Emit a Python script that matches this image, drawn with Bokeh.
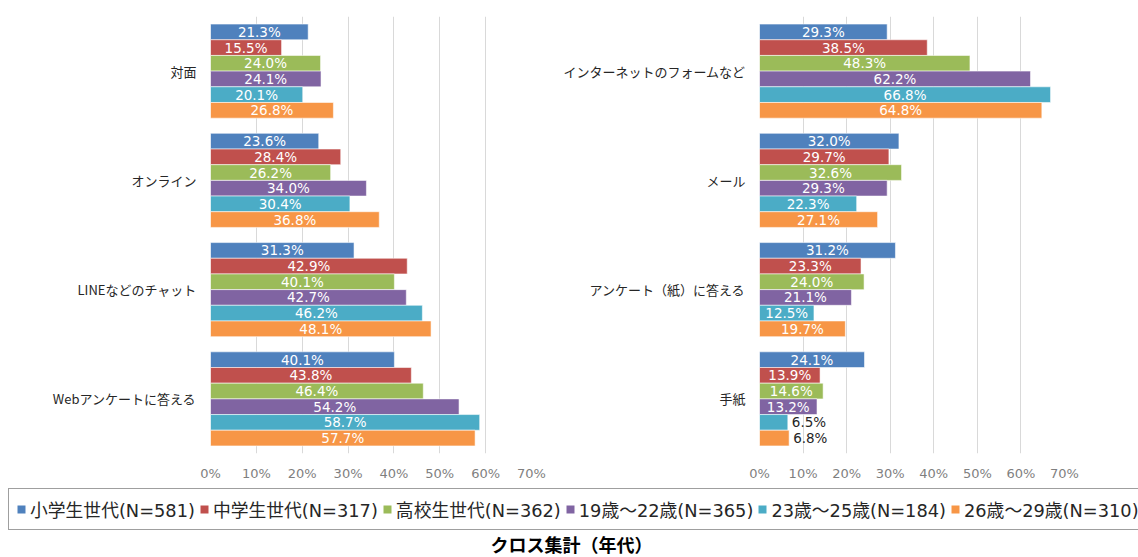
from bokeh.plotting import figure
from bokeh.models import (ColumnDataSource, FactorRange, Range1d, FixedTicker,
                          PrintfTickFormatter, Legend, LegendItem, Label)
from bokeh.transform import dodge
from bokeh.layouts import column, row
from bokeh.embed import file_html
from bokeh.resources import INLINE
from bokeh.core.properties import value

# ---------------- data ----------------
series = ["小学生世代(N=581)", "中学生世代(N=317)", "高校生世代(N=362)",
          "19歳～22歳(N=365)", "23歳～25歳(N=184)", "26歳～29歳(N=310)"]
colors = ["#4F81BD", "#C0504D", "#9BBB59", "#8064A2", "#4BACC6", "#F79646"]

left_categories = ["対面", "オンライン", "LINEなどのチャット", "Webアンケートに答える"]
left_s1 = [21.3, 23.6, 31.3, 40.1]
left_s2 = [15.5, 28.4, 42.9, 43.8]
left_s3 = [24.0, 26.2, 40.1, 46.4]
left_s4 = [24.1, 34.0, 42.7, 54.2]
left_s5 = [20.1, 30.4, 46.2, 58.7]
left_s6 = [26.8, 36.8, 48.1, 57.7]

right_categories = ["インターネットのフォームなど", "メール", "アンケート（紙）に答える", "手紙"]
right_s1 = [29.3, 32.0, 31.2, 24.1]
right_s2 = [38.5, 29.7, 23.3, 13.9]
right_s3 = [48.3, 32.6, 24.0, 14.6]
right_s4 = [62.2, 29.3, 21.1, 13.2]
right_s5 = [66.8, 22.3, 12.5, 6.5]
right_s6 = [64.8, 27.1, 19.7, 6.8]

x_ticks = [0, 10, 20, 30, 40, 50, 60, 70]
title_text = "クロス集計（年代）"

# ---------------- styling ----------------
CJK = "Noto Sans CJK JP"
NUM = "DejaVu Sans"
BAR_H = 0.1435


def make_panel(cats, series_vals, width, b_left, b_right):
    p = figure(width=width, height=485,
               y_range=FactorRange(factors=list(reversed(cats)), range_padding=0),
               x_range=Range1d(0, 70),
               output_backend="svg", toolbar_location=None,
               min_border_left=b_left, min_border_right=b_right,
               min_border_top=16, min_border_bottom=32)
    p.outline_line_color = None
    p.background_fill_color = "white"
    p.border_fill_color = "white"
    p.ygrid.grid_line_color = None
    p.xgrid.grid_line_color = "#D9D9D9"
    p.xgrid.grid_line_width = 1

    p.xaxis.ticker = FixedTicker(ticks=x_ticks)
    p.xaxis.formatter = PrintfTickFormatter(format="%d%%")
    p.xaxis.axis_line_color = None
    p.xaxis.major_tick_line_color = None
    p.xaxis.minor_tick_line_color = None
    p.xaxis.major_tick_out = 0
    p.xaxis.minor_tick_out = 0
    p.xaxis.major_label_standoff = 12
    p.xaxis.major_label_text_font = NUM
    p.xaxis.major_label_text_font_size = "13px"
    p.xaxis.major_label_text_color = "#7F7F7F"

    p.yaxis.axis_line_color = None
    p.yaxis.major_tick_line_color = None
    p.yaxis.minor_tick_line_color = None
    p.yaxis.major_tick_out = 0
    p.yaxis.minor_tick_out = 0
    p.yaxis.major_label_standoff = 14
    p.yaxis.major_label_text_font = CJK
    p.yaxis.major_label_text_font_size = "13px"
    p.yaxis.major_label_text_color = "#262626"

    n = len(series_vals)
    for i, (vals, c) in enumerate(zip(series_vals, colors)):
        off = ((n - 1) / 2 - i) * BAR_H
        ydodge = dodge("cat", off, range=p.y_range)
        src = ColumnDataSource(dict(cat=cats, v=vals))
        p.hbar(y=ydodge, left=0, right="v", height=BAR_H, source=src,
               fill_color=c, line_color="white", line_alpha=0.55, line_width=1)

        inside = [(k, v) for k, v in zip(cats, vals) if v >= 10]
        outside = [(k, v) for k, v in zip(cats, vals) if v < 10]
        if inside:
            s_in = ColumnDataSource(dict(cat=[k for k, _ in inside],
                                         x=[v / 2 for _, v in inside],
                                         t=[f"{v:.1f}%" for _, v in inside]))
            p.text(x="x", y=ydodge, text="t", source=s_in,
                   text_align="center", text_baseline="middle",
                   text_color="white", text_font=value(NUM),
                   text_font_size="13.5px")
        if outside:
            s_out = ColumnDataSource(dict(cat=[k for k, _ in outside],
                                          x=[v for _, v in outside],
                                          t=[f"{v:.1f}%" for _, v in outside]))
            p.text(x="x", y=ydodge, text="t", source=s_out, x_offset=4,
                   text_align="left", text_baseline="middle",
                   text_color="#262626", text_font=value(NUM),
                   text_font_size="13.5px")
    return p


p1 = make_panel(left_categories,
                [left_s1, left_s2, left_s3, left_s4, left_s5, left_s6],
                560, 210, 29)
p2 = make_panel(right_categories,
                [right_s1, right_s2, right_s3, right_s4, right_s5, right_s6],
                578, 199, 74)

# ---------------- legend + title strip ----------------
p3 = figure(width=1138, height=72, x_axis_type=None, y_axis_type=None,
            x_range=Range1d(0, 1), y_range=Range1d(0, 1),
            output_backend="svg", toolbar_location=None, min_border=0)
p3.outline_line_color = None
p3.xgrid.visible = False
p3.ygrid.visible = False

items = []
for name, c in zip(series, colors):
    # zero-size swatch carrier: only its colour is used by the legend
    r = p3.rect(x=[0], y=[0], width=0, height=0, fill_color=c, line_color=None)
    items.append(LegendItem(label=name, renderers=[r]))

legend = Legend(items=items, orientation="horizontal", location=(8, 27.5),
                glyph_width=10, glyph_height=10, label_standoff=4,
                spacing=4, padding=7, margin=0,
                border_line_color="#3F3F3F", border_line_width=1.5,
                background_fill_color="white", background_fill_alpha=1,
                label_text_font=f"{NUM}, {CJK}", label_text_font_size="17.8px",
                label_text_color="#262626", label_height=25)
p3.add_layout(legend, "center")

p3.add_layout(Label(x=571, y=14, x_units="screen", y_units="screen",
                    text=title_text, text_align="center",
                    text_baseline="middle", text_font=CJK,
                    text_font_size="18px", text_font_style="bold",
                    text_color="black"))

layout = column(row(p1, p2), p3)

with open("out.html", "w") as f:
    f.write(file_html(layout, INLINE, title="クロス集計（年代）"))
